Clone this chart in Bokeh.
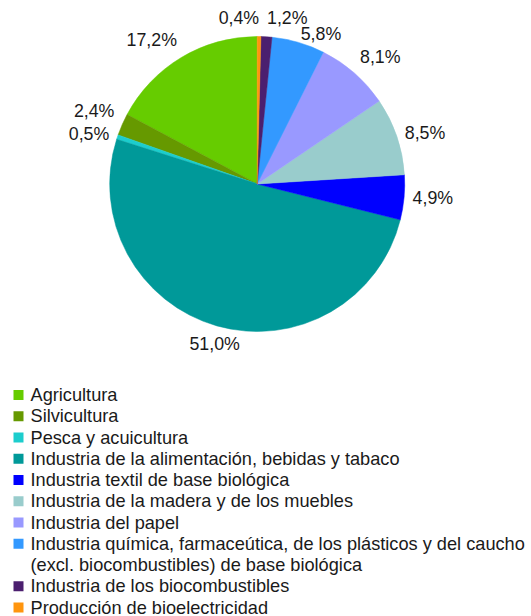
import math
from bokeh.plotting import figure
from bokeh.models import Range1d, ColumnDataSource
from bokeh.core.properties import value
from bokeh.embed import file_html
from bokeh.resources import INLINE

categories = [
    "Agricultura",
    "Silvicultura",
    "Pesca y acuicultura",
    "Industria de la alimentación, bebidas y tabaco",
    "Industria textil de base biológica",
    "Industria de la madera y de los muebles",
    "Industria del papel",
    "Industria química, farmaceútica, de los plásticos y del caucho\n(excl. biocombustibles) de base biológica",
    "Industria de los biocombustibles",
    "Producción de bioelectricidad",
]
shares = [17.2, 2.4, 0.5, 51.0, 4.9, 8.5, 8.1, 5.8, 1.2, 0.4]
colors = ["#66cc00", "#669900", "#1ccdcd", "#009999", "#0000ff",
          "#99cccc", "#9999ff", "#3399ff", "#4b1f6f", "#ff950e"]
label_align = ["right", "right", "right", "center", "left",
               "left", "left", "left", "left", "right"]
label_baseline = ["bottom", "bottom", "middle", "top", "middle",
                  "middle", "bottom", "middle", "bottom", "bottom"]

W, H = 531, 616
def Y(img_y):
    return H - img_y

p = figure(width=W, height=H, x_range=Range1d(0, W), y_range=Range1d(0, H),
           output_backend="svg", toolbar_location=None, min_border=0)
p.axis.visible = False
p.grid.visible = False
p.outline_line_color = None
p.background_fill_color = "white"

cx, cy, r = 256.7, Y(183.5), 147.5
total = sum(shares)
starts, ends, mids = [], [], []
acc = 0.0
for s in shares:
    a0 = math.pi / 2 + 2 * math.pi * acc / total
    acc += s
    a1 = math.pi / 2 + 2 * math.pi * acc / total
    starts.append(a0); ends.append(a1); mids.append((a0 + a1) / 2)

src = ColumnDataSource(dict(start=starts, end=ends, color=colors))
p.wedge(x=cx, y=cy, radius=r, start_angle="start", end_angle="end",
        fill_color="color", line_color="color", line_width=0.5, source=src)

D = 8.5
lx = [cx + (r + D) * math.cos(m) for m in mids]
ly = [cy + (r + D) * math.sin(m) for m in mids]
labels = [("%.1f%%" % s).replace(".", ",") for s in shares]
lsrc = ColumnDataSource(dict(x=lx, y=ly, t=labels, a=label_align, b=label_baseline))
p.text(x="x", y="y", text="t", text_align="a", text_baseline="b", source=lsrc,
       text_font=value("Liberation Sans"), text_font_size="17.8px", text_color="#1a1a1a")

# legend
row0, step = 394.5, 21.25
sq_x, sq_size, tx = 18, 10, 30
line_i = 0
sqx, sqy, sqc = [], [], []
txs, tys, tts = [], [], []
for cat, col in zip(categories, colors):
    parts = cat.split("\n")
    sqx.append(sq_x); sqy.append(Y(row0 + step * line_i)); sqc.append(col)
    for part in parts:
        txs.append(tx); tys.append(Y(row0 + step * line_i)); tts.append(part)
        line_i += 1
p.rect(x=sqx, y=sqy, width=sq_size, height=sq_size, fill_color=sqc, line_color=None)
p.text(x=txs, y=tys, text=tts, text_align="left", text_baseline="middle",
       text_font=value("Liberation Sans"), text_font_size="18.2px", text_color="#1a1a1a")

open("out.html", "w").write(file_html(p, INLINE))
